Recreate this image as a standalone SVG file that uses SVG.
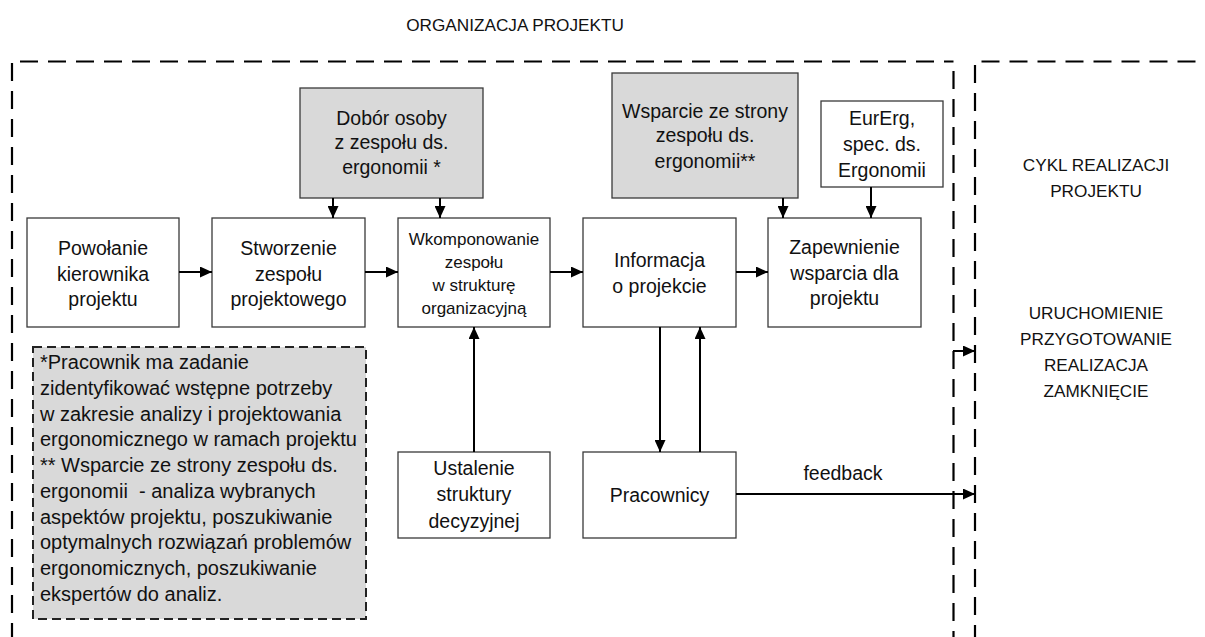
<svg xmlns="http://www.w3.org/2000/svg" width="1205" height="637" viewBox="0 0 1205 637">
  <style>
    text { font-family: "Liberation Sans", Arial, sans-serif; fill: #111; }
    .t { font-size: 19.5px; text-anchor: middle; }
    .ts { font-size: 17px; text-anchor: middle; }
    .caps { font-size: 17.2px; text-anchor: middle; }
    .note { font-size: 20px; white-space: pre; }
    .box { fill: #ffffff; stroke: #3a3a3a; stroke-width: 1.3; }
    .gray { fill: #d9d9d9; stroke: #3a3a3a; stroke-width: 1.3; }
    .frame { fill: none; stroke: #000; stroke-width: 2.2; stroke-dasharray: 18 10; }
    .notebox { fill: #d9d9d9; stroke: #222; stroke-width: 2; stroke-dasharray: 9 5; }
    .conn { fill: none; stroke: #000; stroke-width: 2; }
  </style>
  <defs>
    <marker id="arrow" markerUnits="userSpaceOnUse" markerWidth="12" markerHeight="11" refX="12" refY="5.5" orient="auto">
      <path d="M0,0 L12,5.5 L0,11 z" fill="#000"/>
    </marker>
  </defs>

  <rect width="1205" height="637" fill="#ffffff"/>

  <!-- section headings and frames -->
  <text class="caps" x="515" y="31">ORGANIZACJA PROJEKTU</text>
  <g id="frame-organizacja">
    <path class="frame" d="M20,61.5 H953.5"/>
    <path class="frame" d="M12,63 V637"/>
    <path class="frame" d="M953.5,71 V637"/>
  </g>
  <g id="frame-cykl">
    <path class="frame" d="M975,637 V61.5 H1205" stroke-dashoffset="6"/>
  </g>

  <!-- nodes -->
  <g id="powolanie">
    <rect class="box" x="27" y="218" width="152" height="109"/>
    <text class="t" x="103" y="255">Powołanie</text>
    <text class="t" x="103" y="280.5">kierownika</text>
    <text class="t" x="103" y="306">projektu</text>
  </g>
  <g id="stworzenie">
    <rect class="box" x="212" y="218" width="153" height="109"/>
    <text class="t" x="288.5" y="255">Stworzenie</text>
    <text class="t" x="288.5" y="280.5">zespołu</text>
    <text class="t" x="288.5" y="306">projektowego</text>
  </g>
  <g id="dobor">
    <rect class="gray" x="300" y="88" width="183" height="110"/>
    <text class="t" x="391.5" y="124.5">Dobór osoby</text>
    <text class="t" x="391.5" y="149">z zespołu ds.</text>
    <text class="t" x="391.5" y="173.5">ergonomii *</text>
  </g>
  <g id="wkomponowanie">
    <rect class="box" x="398" y="218" width="152" height="109"/>
    <text class="ts" x="474" y="245">Wkomponowanie</text>
    <text class="ts" x="474" y="267.5">zespołu</text>
    <text class="ts" x="474" y="290.5">w strukturę</text>
    <text class="ts" x="474" y="313.5">organizacyjną</text>
  </g>
  <g id="informacja">
    <rect class="box" x="583" y="218" width="153" height="109"/>
    <text class="t" x="659.5" y="267">Informacja</text>
    <text class="t" x="659.5" y="293">o projekcie</text>
  </g>
  <g id="wsparcie">
    <rect class="gray" x="612" y="73" width="186" height="125"/>
    <text class="t" x="705" y="117.5">Wsparcie ze strony</text>
    <text class="t" x="705" y="142">zespołu ds.</text>
    <text class="t" x="705" y="168">ergonomii**</text>
  </g>
  <g id="eurerg">
    <rect class="box" x="821" y="101" width="122" height="86"/>
    <text class="t" x="882" y="125">EurErg,</text>
    <text class="t" x="882" y="150.5">spec. ds.</text>
    <text class="t" x="882" y="176.5">Ergonomii</text>
  </g>
  <g id="zapewnienie">
    <rect class="box" x="768" y="218" width="153" height="109"/>
    <text class="t" x="844.5" y="253.5">Zapewnienie</text>
    <text class="t" x="844.5" y="280">wsparcia dla</text>
    <text class="t" x="844.5" y="305">projektu</text>
  </g>
  <g id="ustalenie">
    <rect class="box" x="398" y="452" width="152" height="86"/>
    <text class="t" x="474" y="475">Ustalenie</text>
    <text class="t" x="474" y="501">struktury</text>
    <text class="t" x="474" y="527.5">decyzyjnej</text>
  </g>
  <g id="pracownicy">
    <rect class="box" x="583" y="452" width="153" height="86"/>
    <text class="t" x="659.5" y="501.5">Pracownicy</text>
  </g>
  <g id="przypis">
    <rect class="notebox" x="33" y="347" width="333" height="272"/>
    <text class="note" x="40" y="369">*Pracownik ma zadanie</text>
    <text class="note" x="40" y="395">zidentyfikować wstępne potrzeby</text>
    <text class="note" x="40" y="420.5">w zakresie analizy i projektowania</text>
    <text class="note" x="40" y="446">ergonomicznego w ramach projektu</text>
    <text class="note" x="40" y="472">** Wsparcie ze strony zespołu ds.</text>
    <text class="note" x="40" y="497.5">ergonomii&#160; - analiza wybranych</text>
    <text class="note" x="40" y="523.5">aspektów projektu, poszukiwanie</text>
    <text class="note" x="40" y="549">optymalnych rozwiązań problemów</text>
    <text class="note" x="40" y="575">ergonomicznych, poszukiwanie</text>
    <text class="note" x="40" y="600.5">ekspertów do analiz.</text>
  </g>
  <g id="cykl">
    <text class="caps" x="1096" y="171">CYKL REALIZACJI</text>
    <text class="caps" x="1096" y="197">PROJEKTU</text>
    <text class="caps" x="1096" y="318.5">URUCHOMIENIE</text>
    <text class="caps" x="1096" y="344.5">PRZYGOTOWANIE</text>
    <text class="caps" x="1096" y="370.5">REALIZACJA</text>
    <text class="caps" x="1096" y="396.5">ZAMKNIĘCIE</text>
  </g>

  <!-- connectors -->
  <g id="connectors">
    <line class="conn" x1="179" y1="272" x2="212" y2="272" marker-end="url(#arrow)"/>
    <line class="conn" x1="365" y1="272" x2="398" y2="272" marker-end="url(#arrow)"/>
    <line class="conn" x1="550" y1="272" x2="583" y2="272" marker-end="url(#arrow)"/>
    <line class="conn" x1="736" y1="272" x2="768" y2="272" marker-end="url(#arrow)"/>
    <line class="conn" x1="333" y1="198" x2="333" y2="218" marker-end="url(#arrow)"/>
    <line class="conn" x1="440" y1="198" x2="440" y2="218" marker-end="url(#arrow)"/>
    <line class="conn" x1="783" y1="198" x2="783" y2="218" marker-end="url(#arrow)"/>
    <line class="conn" x1="871" y1="187" x2="871" y2="218" marker-end="url(#arrow)"/>
    <line class="conn" x1="474" y1="452" x2="474" y2="327" marker-end="url(#arrow)"/>
    <line class="conn" x1="660" y1="327" x2="660" y2="452" marker-end="url(#arrow)"/>
    <line class="conn" x1="700" y1="452" x2="700" y2="327" marker-end="url(#arrow)"/>
    <line class="conn" x1="736" y1="494" x2="975" y2="494" stroke-width="2.6" marker-end="url(#arrow)"/>
    <line class="conn" x1="953" y1="351" x2="975" y2="351" marker-end="url(#arrow)"/>
    <text class="t" x="843" y="479.5">feedback</text>
  </g>
</svg>
